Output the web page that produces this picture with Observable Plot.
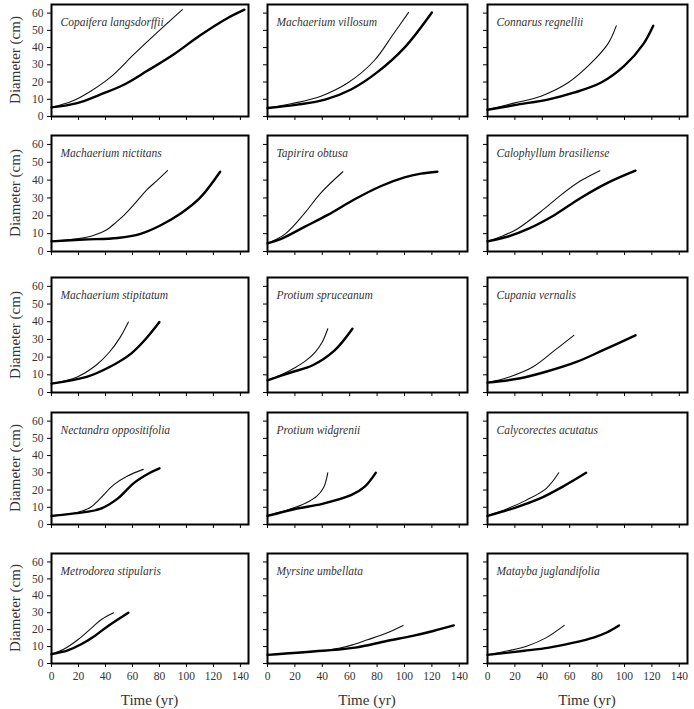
<!DOCTYPE html>
<html><head><meta charset="utf-8">
<script src="https://cdn.jsdelivr.net/npm/d3@7"></script>
<script src="https://cdn.jsdelivr.net/npm/@observablehq/plot@0.6"></script>
<style>
body{margin:0;background:#fff;}
#chart{position:relative;width:694px;height:709px;font-family:"Liberation Serif","Tinos","Times New Roman","DejaVu Serif",serif;overflow:hidden;}
#chart svg{position:absolute;overflow:visible;}
.ytitle{position:absolute;font-size:15px;font-weight:normal;color:#333;white-space:nowrap;transform:translate(-50%,-50%) rotate(-90deg);}
.xtitle{position:absolute;font-size:15px;font-weight:normal;color:#333;white-space:nowrap;transform:translate(-50%,-50%);}
</style></head><body><div id="chart"></div>
<script>
// ---- tick labels ----
const xTicks = [0, 20, 40, 60, 80, 100, 120, 140];
const yTicks = [0, 10, 20, 30, 40, 50, 60];
const xTitle = "Time (yr)";
const yTitle = "Diameter (cm)";

// ---- species (reading order, 3 per row) ----
const speciesNames = [
  "Copaifera langsdorffii", "Machaerium villosum", "Connarus regnellii",
  "Machaerium nictitans", "Tapirira obtusa", "Calophyllum brasiliense",
  "Machaerium stipitatum", "Protium spruceanum", "Cupania vernalis",
  "Nectandra oppositifolia", "Protium widgrenii", "Calycorectes acutatus",
  "Metrodorea stipularis", "Myrsine umbellata", "Matayba juglandifolia"
];

// ---- curves: [time (yr), diameter (cm)] ----
const copaiferaThin  = [[0,5.3],[15,8.8],[29,14.7],[44,23],[61,36],[78,48.5],[97,62]];
const copaiferaThick = [[0,5.3],[19,7.8],[36,12.7],[54,18.6],[71,26.5],[91,36.3],[110,47],[130,56.9],[143,62]];
const villosumThin   = [[0,4.9],[18,7.5],[39,11.8],[59,19.7],[78,32.5],[92,48],[103,60.4]];
const villosumThick  = [[0,4.9],[22,6.9],[42,9.8],[61,15.7],[80,25.6],[100,40],[120,60.4]];
const connarusThin   = [[0,3.9],[20,7.9],[39,11.8],[59,19.7],[75,30.5],[88,42.3],[94,52.6]];
const connarusThick  = [[0,3.9],[22,6.9],[44,9.8],[63,13.8],[83,19.7],[100,29.5],[114,42.3],[121,52.6]];
const nictitansThin  = [[0,5.7],[19,7.1],[31,9],[41,12.2],[48,16.5],[54,20.5],[61,26.2],[71,34.8],[78,39.6],[86,45.3]];
const nictitansThick = [[0,5.7],[24,6.7],[49,7.6],[66,9.9],[81,14.7],[96,21.4],[110,30],[125,44.7]];
const tapiriraThin   = [[0,4.6],[13,9.9],[27,21.4],[39,32.9],[55,44.7]];
const tapiriraThick  = [[0,4.6],[10,7.1],[27,13.8],[44,20.5],[63,29],[83,36.7],[100,41.5],[112,43.6],[124,44.7]];
const calophyllumThin  = [[0,5.7],[10,8.4],[22,12.8],[39,22.4],[54,31.9],[68,39.6],[82,45.3]];
const calophyllumThick = [[0,5.7],[15,8.4],[30,12.8],[49,20.5],[68,30],[88,38.6],[108,45.3]];
const stipitatumThin   = [[0,5],[19,8.8],[33,15.4],[43,22.9],[51,31.3],[57,39.8]];
const stipitatumThick  = [[0,5],[26,8.8],[43,14.4],[59,22],[70,30.4],[80,39.8]];
const spruceanumThin   = [[0,6.9],[10,10],[20,14],[28,18],[35,23],[40,28.5],[44,36]];
const spruceanumThick  = [[0,6.9],[17,11.3],[33,15.4],[49,23.8],[62,36]];
const cupaniaThin      = [[0,5.6],[16,8.8],[33,14.4],[49,23.8],[63,32.3]];
const cupaniaThick     = [[0,5.6],[23,7.9],[42,11.6],[65,17.3],[84,23.8],[108,32.3]];
const nectandraThin    = [[0,5],[19,7],[29,10],[36,15],[46,23],[56,28],[68,32]];
const nectandraThick   = [[0,5],[19,6.6],[36,9],[49,15],[61,24],[73,30],[80,32.6]];
const widgreniiThin    = [[0,5],[15,8.5],[28,12.5],[36,16.5],[41,21.5],[44,30]];
const widgreniiThick   = [[0,5],[20,9],[40,12],[61,17],[71,22],[79,30]];
const calycorectesThin  = [[0,5],[14,9],[28,14],[43,21],[52,30]];
const calycorectesThick = [[0,5],[21,10],[38,15],[55,22],[72,30]];
const metrodoreaThin    = [[0,5.5],[9,8.4],[20,14.3],[30,21.2],[37,26],[46,30]];
const metrodoreaThick   = [[0,5.5],[12,7.8],[22,11.4],[32,16.3],[42,22.2],[57,30]];
const myrsineThin       = [[0,5.1],[20,6.3],[40,7.6],[52,9],[62,11],[73,14],[87,18],[99,22.5]];
const myrsineThick      = [[0,5.1],[40,7.5],[64,9.4],[87,13.3],[106,16.3],[121,19.2],[136,22.5]];
const mataybaThin       = [[0,5.1],[15,7.5],[29,10.4],[43,15.3],[56,22.5]];
const mataybaThick      = [[0,5.1],[27,7.5],[45,9.4],[62,12.2],[78,15.5],[87,18.3],[96,22.5]];

const thinCurves = [copaiferaThin, villosumThin, connarusThin, nictitansThin, tapiriraThin, calophyllumThin,
  stipitatumThin, spruceanumThin, cupaniaThin, nectandraThin, widgreniiThin, calycorectesThin,
  metrodoreaThin, myrsineThin, mataybaThin];
const thickCurves = [copaiferaThick, villosumThick, connarusThick, nictitansThick, tapiriraThick, calophyllumThick,
  stipitatumThick, spruceanumThick, cupaniaThick, nectandraThick, widgreniiThick, calycorectesThick,
  metrodoreaThick, myrsineThick, mataybaThick];

// ---- layout (frame boxes in page pixels) ----
const colBox = [[51, 248], [267, 467], [487, 687]];
const rowBox = [[4, 116], [135, 251], [277, 392], [412, 524], [553, 663]];

const chart = document.getElementById("chart");
const font = "'Liberation Serif','Tinos','Times New Roman','DejaVu Serif',serif";

speciesNames.forEach((name, i) => {
  const r = Math.floor(i / 3), c = i % 3;
  const [x0, x1] = colBox[c], [y0, y1] = rowBox[r];
  const mL = c === 0 ? 32 : 8, mR = 4, mT = 4, mB = r === 4 ? 24 : 8;
  const toRows = arr => arr.map(([t, d]) => ({t, d}));
  const svg = Plot.plot({
    width: (x1 - x0) + mL + mR,
    height: (y1 - y0) + mT + mB,
    marginLeft: mL, marginRight: mR, marginTop: mT, marginBottom: mB,
    style: {background: "none", fontFamily: font, fontSize: "11px", color: "#222", overflow: "visible"},
    x: {domain: [0, 146]},
    y: {domain: [0, 65]},
    marks: [
      Plot.axisX({ticks: xTicks, tickSize: 4, tickPadding: 4, stroke: "#000",
        tickFormat: r === 4 ? (d => d) : (() => ""), label: null, fill: "#333", fontFamily: font, fontSize: 11.5}),
      Plot.axisY({ticks: yTicks, tickSize: 4, tickPadding: 4, stroke: "#000",
        tickFormat: c === 0 ? (d => d) : (() => ""), label: null, fill: "#333", fontFamily: font, fontSize: 11.5}),
      Plot.line(toRows(thinCurves[i]), {x: "t", y: "d", stroke: "#111", strokeWidth: 1.1, curve: "catmull-rom"}),
      Plot.line(toRows(thickCurves[i]), {x: "t", y: "d", stroke: "#000", strokeWidth: 2.4, curve: "catmull-rom"}),
      Plot.frame({stroke: "#000", strokeWidth: 2}),
      Plot.text([name], {frameAnchor: "top-left", dx: 9, dy: 13, text: d => d,
        fontStyle: "italic", fontSize: 11.5, fill: "#333", fontFamily: font})
    ]
  });
  svg.style.left = (x0 - mL) + "px";
  svg.style.top = (y0 - mT) + "px";
  chart.appendChild(svg);
});

rowBox.forEach(([y0, y1]) => {
  const d = document.createElement("div");
  d.className = "ytitle";
  d.textContent = yTitle;
  d.style.left = "15px";
  d.style.top = ((y0 + y1) / 2) + "px";
  chart.appendChild(d);
});
colBox.forEach(([x0, x1]) => {
  const d = document.createElement("div");
  d.className = "xtitle";
  d.textContent = xTitle;
  d.style.left = ((x0 + x1) / 2) + "px";
  d.style.top = "700px";
  chart.appendChild(d);
});
</script></body></html>
